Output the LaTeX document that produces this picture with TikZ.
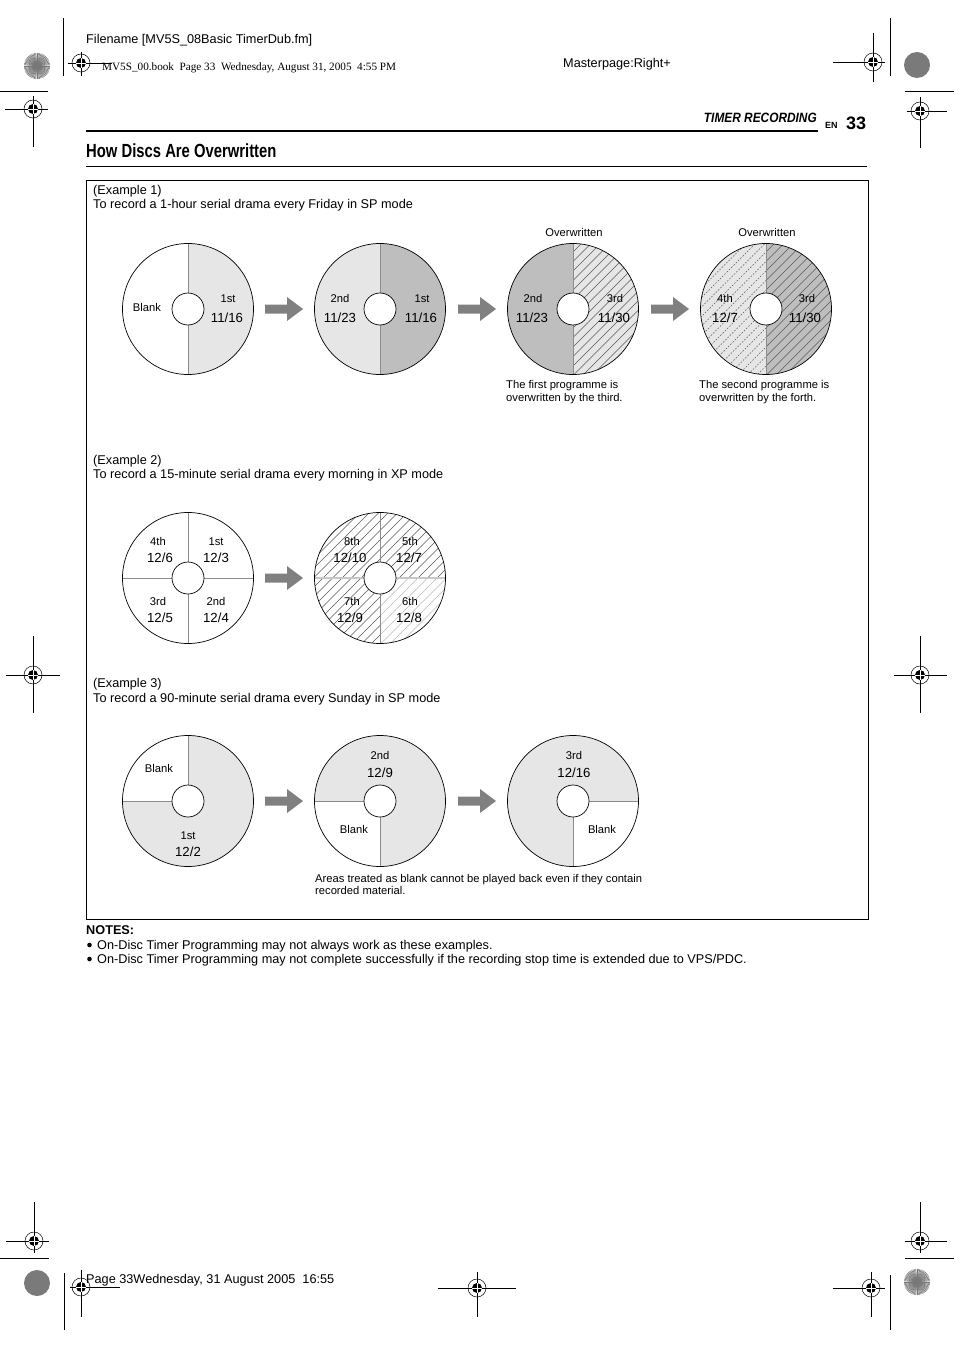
\documentclass[tikz,border=0pt]{standalone}
\usepackage{fontspec}
\setmainfont{Liberation Sans}
\newfontfamily\serifT{Liberation Serif}
\newfontfamily\condA[FakeStretch=0.78]{Liberation Sans}
\newfontfamily\condB[FakeStretch=0.88]{Liberation Sans}
\definecolor{lightg}{HTML}{E6E6E6}
\definecolor{darkg}{HTML}{BEBEBE}
\definecolor{arrowg}{HTML}{808080}
\definecolor{divg}{HTML}{8C8C8C}
\definecolor{hatchd}{HTML}{5A5A5A}
\definecolor{hatchl}{HTML}{BBBBBB}
\definecolor{burst}{HTML}{777777}
\definecolor{noise}{HTML}{7A7A7A}
\tikzset{
  disc/.style={draw=black, line width=0.7pt},
  divider/.style={draw=divg, line width=0.9pt},
  hole/.style={fill=white, draw=black, line width=0.7pt},
  lab/.style={font=\fontsize{11.2}{13}\selectfont, inner sep=0pt, anchor=base},
  datelab/.style={font=\fontsize{13.2}{15}\selectfont, inner sep=0pt, anchor=base},
  body/.style={font=\fontsize{12.7}{15}\selectfont, inner sep=0pt, anchor=base west},
  captxt/.style={font=\fontsize{11.2}{13}\selectfont, inner sep=0pt, anchor=base west},
  hatchline/.style={draw=hatchd, line width=0.45pt},
  hatchlight/.style={draw=hatchl, line width=0.45pt},
  hatchdot/.style={draw=hatchd, line width=0.45pt, dash pattern=on 1.6pt off 1.6pt},
  markline/.style={draw=black, line width=0.8pt},
}
\newcommand\hatchset[1]{\foreach \k in {-20,...,20} {\draw[#1] ({\k*9.5-90},-90) -- ({\k*9.5+90},90);}}
\newcommand\blockarr[2]{\fill[arrowg] ({#1},{#2+4.5}) -- ({#1+22},{#2+4.5}) -- ({#1+22},{#2+12}) -- ({#1+38},{#2}) -- ({#1+22},{#2-12}) -- ({#1+22},{#2-4.5}) -- ({#1},{#2-4.5}) -- cycle;}
\newcommand\regmark[1]{\begin{scope}[shift={(#1)}]
  \draw[line width=0.5pt] (0,0) circle[radius=9];
  \fill (0,0) circle[radius=5];
  \draw[white, line width=0.7pt] (-5,0) -- (5,0) (0,-5) -- (0,5);
\end{scope}}
\newcommand\burstmark[1]{\begin{scope}[shift={(#1)}]
  \fill[lightg] (0,0) circle[radius=13];
  \foreach \a in {0,6,...,354} {\draw[burst, line width=0.6pt] (0,0) -- (\a:13);}
\end{scope}}
\newcommand\noisemark[1]{\begin{scope}[shift={(#1)}]
  \fill[noise] (0,0) circle[radius=13];
\end{scope}}
\begin{document}
\begin{tikzpicture}[x=1pt,y=1pt]
\useasboundingbox (0,0) rectangle (954,-1351);
\fill[white] (0,0) rectangle (954,-1351);

% ---------- registration / crop marks ----------
\draw[markline] (63,-18) -- (63,-76);
\burstmark{37,-66}
\draw[markline] (68,-63) -- (112,-63) (81,-52) -- (81,-76);
\regmark{81,-63}
\draw[markline] (0,-91) -- (48,-91);
\draw[markline] (5,-109) -- (48,-109) (33,-96) -- (33,-147);
\regmark{33,-109}

\draw[markline] (833,-62) -- (885,-62) (873,-33) -- (873,-82);
\regmark{873,-62}
\draw[markline] (890,-18) -- (890,-76);
\noisemark{917,-65}
\draw[markline] (905,-91) -- (954,-91);
\draw[markline] (907,-111) -- (947,-111) (920,-97) -- (920,-148);
\regmark{920,-111}

\draw[markline] (6,-675) -- (60,-675) (33,-636) -- (33,-713);
\regmark{33,-675}
\draw[markline] (894,-675) -- (947,-675) (920,-636) -- (920,-713);
\regmark{920,-675}

\draw[markline] (6,-1241) -- (49,-1241) (34,-1202) -- (34,-1253);
\regmark{34,-1241}
\draw[markline] (0,-1258) -- (49,-1258);
\noisemark{37,-1283}
\draw[markline] (64,-1273) -- (64,-1330);
\draw[markline] (70,-1287) -- (120,-1287) (81,-1270) -- (81,-1317);
\regmark{81,-1287}
\draw[markline] (438,-1288) -- (516,-1288) (477,-1272) -- (477,-1317);
\regmark{477,-1288}
\draw[markline] (833,-1288) -- (885,-1288) (871,-1272) -- (871,-1317);
\regmark{871,-1288}
\draw[markline] (890,-1275) -- (890,-1330);
\burstmark{917,-1282}
\draw[markline] (905,-1241) -- (947,-1241) (920,-1202) -- (920,-1253);
\regmark{920,-1241}
\draw[markline] (905,-1258) -- (954,-1258);

% ---------- header texts ----------
\node[body] (fname) at (86,-43.5) {Filename [MV5S\_08Basic TimerDub.fm]};
\node[inner sep=0pt, anchor=base west, font=\serifT\fontsize{11.2}{13}\selectfont] (book) at (102,-70.7) {MV5S\_00.book\ \ Page 33\ \ Wednesday, August 31, 2005\ \ 4:55 PM};
\node[body] (master) at (563,-67.5) {Masterpage:Right+};
\node[inner sep=0pt, anchor=base east, font=\condB\bfseries\itshape\fontsize{13.5}{15}\selectfont] (section) at (817,-123) {TIMER RECORDING};
\node[inner sep=0pt, anchor=base west, font=\bfseries\fontsize{9}{10}\selectfont] (en) at (825,-128.2) {EN};
\node[inner sep=0pt, anchor=base west, font=\bfseries\fontsize{18}{20}\selectfont] (pageno) at (846,-129.4) {33};
\draw[line width=2pt] (86,-131) -- (818,-131);
\node[inner sep=0pt, anchor=base west, font=\condA\bfseries\fontsize{19}{21}\selectfont] (title) at (86,-157.8) {How Discs Are Overwritten};
\draw[line width=0.9pt] (86,-166) -- (867,-166);

% ---------- main frame ----------
\draw[line width=0.8pt] (86,-180) rectangle (868,-919);

% ---------- Example 1 ----------
\node[body] (ex1a) at (93,-194.5) {(Example 1)};
\node[body] (ex1b) at (93,-208.5) {To record a 1-hour serial drama every Friday in SP mode};

% disc 1
\begin{scope}[shift={(188,-309)}]
  \fill[lightg] (0,0) -- (0,65.5) arc[start angle=90,end angle=-90,radius=65.5] -- cycle;
  \draw[divider] (0,65.5) -- (0,-65.5);
  \draw[disc] (0,0) circle[radius=65.5];
  \draw[hole] (0,0) circle[radius=16];
\end{scope}
\node[lab] (d1a) at (147,-311.7) {Blank};
\node[lab] (d1b) at (228,-302) {1st};
\node[datelab] (d1c) at (227,-322.7) {11/16};
\blockarr{265}{-309}

% disc 2
\begin{scope}[shift={(380,-309)}]
  \fill[lightg] (0,0) -- (0,65.5) arc[start angle=90,end angle=270,radius=65.5] -- cycle;
  \fill[darkg] (0,0) -- (0,65.5) arc[start angle=90,end angle=-90,radius=65.5] -- cycle;
  \draw[divider] (0,65.5) -- (0,-65.5);
  \draw[disc] (0,0) circle[radius=65.5];
  \draw[hole] (0,0) circle[radius=16];
\end{scope}
\node[lab] (d2a) at (340,-302) {2nd};
\node[datelab] (d2b) at (340,-322.7) {11/23};
\node[lab] (d2c) at (422,-302) {1st};
\node[datelab] (d2d) at (421,-322.7) {11/16};
\blockarr{458}{-309}

% disc 3
\begin{scope}[shift={(573,-309)}]
  \fill[darkg] (0,0) -- (0,65.5) arc[start angle=90,end angle=270,radius=65.5] -- cycle;
  \fill[lightg] (0,0) -- (0,65.5) arc[start angle=90,end angle=-90,radius=65.5] -- cycle;
  \begin{scope}
    \clip (0,0) circle[radius=65.5];
    \clip (0,-70) rectangle (70,70);
    \hatchset{hatchline}
  \end{scope}
  \draw[divider] (0,65.5) -- (0,-65.5);
  \draw[disc] (0,0) circle[radius=65.5];
  \draw[hole] (0,0) circle[radius=16];
\end{scope}
\node[lab] (ow1) at (574,-236) {Overwritten};
\node[lab] (d3a) at (533,-302) {2nd};
\node[datelab] (d3b) at (532,-322.7) {11/23};
\node[lab] (d3c) at (615,-302) {3rd};
\node[datelab] (d3d) at (614,-322.7) {11/30};
\node[captxt] (c1a) at (506,-388) {The first programme is};
\node[captxt] (c1b) at (506,-401) {overwritten by the third.};
\blockarr{651}{-309}

% disc 4
\begin{scope}[shift={(766,-309)}]
  \fill[lightg] (0,0) -- (0,65.5) arc[start angle=90,end angle=270,radius=65.5] -- cycle;
  \fill[darkg] (0,0) -- (0,65.5) arc[start angle=90,end angle=-90,radius=65.5] -- cycle;
  \begin{scope}
    \clip (0,0) circle[radius=65.5];
    \clip (-70,-70) rectangle (0,70);
    \hatchset{hatchdot}
  \end{scope}
  \begin{scope}
    \clip (0,0) circle[radius=65.5];
    \clip (0,-70) rectangle (70,70);
    \hatchset{hatchline}
  \end{scope}
  \draw[divider] (0,65.5) -- (0,-65.5);
  \draw[disc] (0,0) circle[radius=65.5];
  \draw[hole] (0,0) circle[radius=16];
\end{scope}
\node[lab] (ow2) at (767,-236) {Overwritten};
\node[lab] (d4a) at (725,-302) {4th};
\node[datelab] (d4b) at (725,-322.7) {12/7};
\node[lab] (d4c) at (807,-302) {3rd};
\node[datelab] (d4d) at (805,-322.7) {11/30};
\node[captxt] (c2a) at (699,-388) {The second programme is};
\node[captxt] (c2b) at (699,-401) {overwritten by the forth.};

% ---------- Example 2 ----------
\node[body] (ex2a) at (93,-464.5) {(Example 2)};
\node[body] (ex2b) at (93,-478.5) {To record a 15-minute serial drama every morning in XP mode};

\begin{scope}[shift={(188,-578)}]
  \fill[white] (0,0) circle[radius=65.5];
  \draw[divider] (0,65.5) -- (0,-65.5) (-65.5,0) -- (65.5,0);
  \draw[disc] (0,0) circle[radius=65.5];
  \draw[hole] (0,0) circle[radius=16];
\end{scope}
\node[lab] (e2a) at (158,-545) {4th};
\node[datelab] (e2b) at (160,-562.7) {12/6};
\node[lab] (e2c) at (216,-545) {1st};
\node[datelab] (e2d) at (216,-562.7) {12/3};
\node[lab] (e2e) at (158,-605) {3rd};
\node[datelab] (e2f) at (160,-622.7) {12/5};
\node[lab] (e2g) at (216,-605) {2nd};
\node[datelab] (e2h) at (216,-622.7) {12/4};
\blockarr{265}{-578}

\begin{scope}[shift={(380,-578)}]
  \fill[white] (0,0) circle[radius=65.5];
  \begin{scope}
    \clip (0,0) circle[radius=65.5];
    \clip (-70,70) -- (70,70) -- (70,0) -- (0,0) -- (0,-70) -- (-70,-70) -- cycle;
    \hatchset{hatchline}
  \end{scope}
  \begin{scope}
    \clip (0,0) circle[radius=65.5];
    \clip (0,0) rectangle (70,-70);
    \hatchset{hatchlight}
  \end{scope}
  \draw[draw=lightg!70!gray, line width=1.8pt] (-65.5,0) -- (65.5,0);
  \draw[divider] (0,65.5) -- (0,-65.5);
  \draw[disc] (0,0) circle[radius=65.5];
  \draw[hole] (0,0) circle[radius=16];
\end{scope}
\node[lab] (f2a) at (352,-545) {8th};
\node[datelab] (f2b) at (350,-562.7) {12/10};
\node[lab] (f2c) at (410,-545) {5th};
\node[datelab] (f2d) at (409,-562.7) {12/7};
\node[lab] (f2e) at (352,-605) {7th};
\node[datelab] (f2f) at (350,-622.7) {12/9};
\node[lab] (f2g) at (410,-605) {6th};
\node[datelab] (f2h) at (409,-622.7) {12/8};

% ---------- Example 3 ----------
\node[body] (ex3a) at (93,-687.5) {(Example 3)};
\node[body] (ex3b) at (93,-702.5) {To record a 90-minute serial drama every Sunday in SP mode};

\begin{scope}[shift={(188,-801)}]
  \fill[lightg] (0,0) circle[radius=65.5];
  \fill[white] (0,0) -- (0,65.5) arc[start angle=90,end angle=180,radius=65.5] -- cycle;
  \draw[divider] (0,65.5) -- (0,0) -- (-65.5,0);
  \draw[disc] (0,0) circle[radius=65.5];
  \draw[hole] (0,0) circle[radius=16];
\end{scope}
\node[lab] (g1a) at (159,-772) {Blank};
\node[lab] (g1b) at (188,-839) {1st};
\node[datelab] (g1c) at (188,-856.7) {12/2};
\blockarr{265}{-801}

\begin{scope}[shift={(380,-801)}]
  \fill[lightg] (0,0) circle[radius=65.5];
  \fill[white] (0,0) -- (-65.5,0) arc[start angle=180,end angle=270,radius=65.5] -- cycle;
  \draw[divider] (-65.5,0) -- (0,0) -- (0,-65.5);
  \draw[disc] (0,0) circle[radius=65.5];
  \draw[hole] (0,0) circle[radius=16];
\end{scope}
\node[lab] (g2a) at (380,-759) {2nd};
\node[datelab] (g2b) at (380,-777.7) {12/9};
\node[lab] (g2c) at (354,-833) {Blank};
\blockarr{458}{-801}

\begin{scope}[shift={(573,-801)}]
  \fill[lightg] (0,0) circle[radius=65.5];
  \fill[white] (0,0) -- (0,-65.5) arc[start angle=270,end angle=360,radius=65.5] -- cycle;
  \draw[divider] (65.5,0) -- (0,0) -- (0,-65.5);
  \draw[disc] (0,0) circle[radius=65.5];
  \draw[hole] (0,0) circle[radius=16];
\end{scope}
\node[lab] (g3a) at (574,-759) {3rd};
\node[datelab] (g3b) at (574,-777.7) {12/16};
\node[lab] (g3c) at (602,-833) {Blank};
\node[captxt] (c3a) at (315,-882) {Areas treated as blank cannot be played back even if they contain};
\node[captxt] (c3b) at (315,-894) {recorded material.};

% ---------- notes ----------
\node[inner sep=0pt, anchor=base west, font=\bfseries\fontsize{12.7}{15}\selectfont] (notes) at (86,-934.5) {NOTES:};
\fill (89.5,-945) circle[radius=2.3];
\node[body] (n1) at (97,-949.5) {On-Disc Timer Programming may not always work as these examples.};
\fill (89.5,-959) circle[radius=2.3];
\node[body] (n2) at (97,-963.5) {On-Disc Timer Programming may not complete successfully if the recording stop time is extended due to VPS/PDC.};

% ---------- footer ----------
\node[body] (foot) at (86,-1283.5) {Page 33Wednesday, 31 August 2005\ \ 16:55};
\end{tikzpicture}
\end{document}
